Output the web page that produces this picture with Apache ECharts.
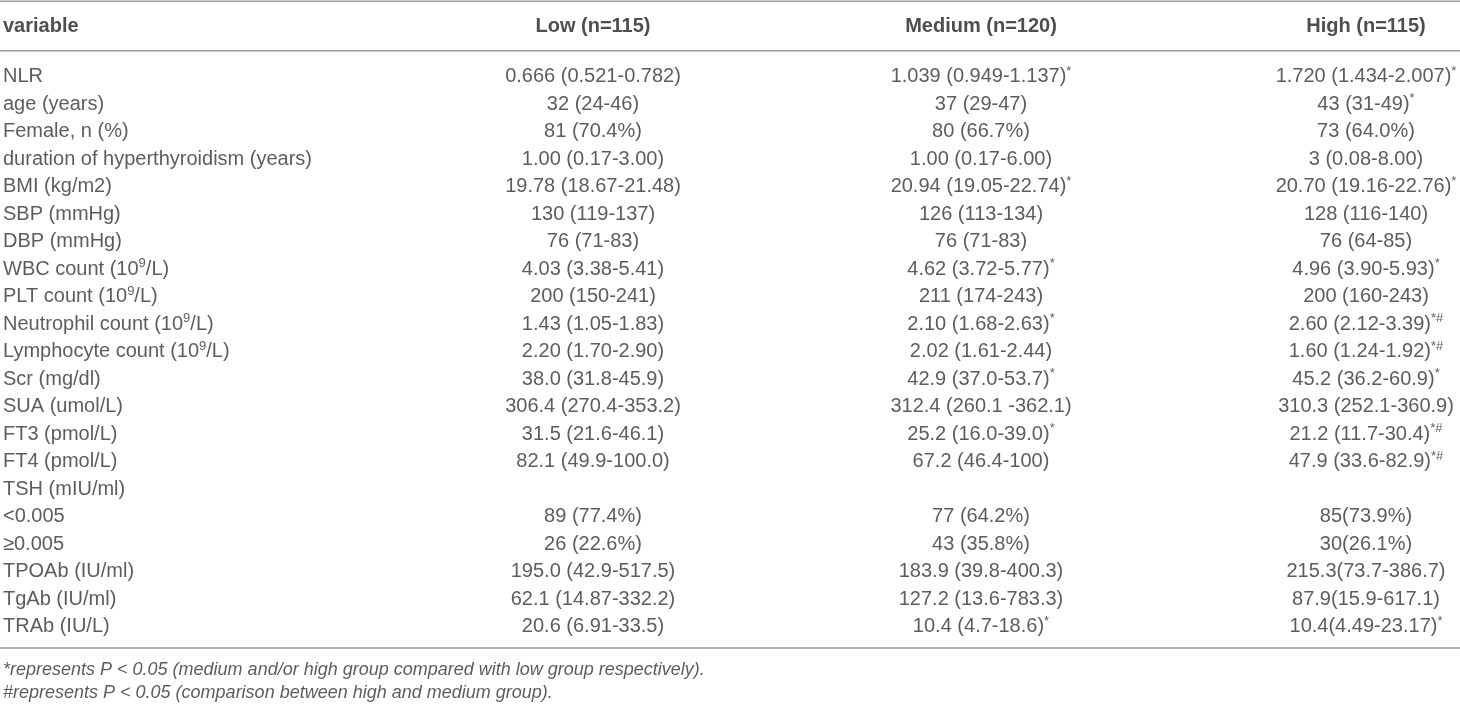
<!DOCTYPE html>
<html>
<head>
<meta charset="utf-8">
<script src="https://cdn.jsdelivr.net/npm/echarts@6/dist/echarts.min.js"></script>
<style>
html,body{margin:0;padding:0;background:#fff;}
#chart{width:1460px;height:706px;}
</style>
</head>
<body>
<div id="chart"></div>
<script>
// ---- data ----
var headers = ['variable', 'Low (n=115)', 'Medium (n=120)', 'High (n=115)'];
var variables = ['NLR', 'age (years)', 'Female, n (%)', 'duration of hyperthyroidism (years)', 'BMI (kg/m2)',
  'SBP (mmHg)', 'DBP (mmHg)', 'WBC count (10^9/L)', 'PLT count (10^9/L)', 'Neutrophil count (10^9/L)',
  'Lymphocyte count (10^9/L)', 'Scr (mg/dl)', 'SUA (umol/L)', 'FT3 (pmol/L)', 'FT4 (pmol/L)', 'TSH (mIU/ml)',
  '<0.005', '\u22650.005', 'TPOAb (IU/ml)', 'TgAb (IU/ml)', 'TRAb (IU/L)'];
var low = ['0.666 (0.521-0.782)', '32 (24-46)', '81 (70.4%)', '1.00 (0.17-3.00)', '19.78 (18.67-21.48)',
  '130 (119-137)', '76 (71-83)', '4.03 (3.38-5.41)', '200 (150-241)', '1.43 (1.05-1.83)',
  '2.20 (1.70-2.90)', '38.0 (31.8-45.9)', '306.4 (270.4-353.2)', '31.5 (21.6-46.1)', '82.1 (49.9-100.0)', '',
  '89 (77.4%)', '26 (22.6%)', '195.0 (42.9-517.5)', '62.1 (14.87-332.2)', '20.6 (6.91-33.5)'];
var medium = ['1.039 (0.949-1.137)*', '37 (29-47)', '80 (66.7%)', '1.00 (0.17-6.00)', '20.94 (19.05-22.74)*',
  '126 (113-134)', '76 (71-83)', '4.62 (3.72-5.77)*', '211 (174-243)', '2.10 (1.68-2.63)*',
  '2.02 (1.61-2.44)', '42.9 (37.0-53.7)*', '312.4 (260.1 -362.1)', '25.2 (16.0-39.0)*', '67.2 (46.4-100)', '',
  '77 (64.2%)', '43 (35.8%)', '183.9 (39.8-400.3)', '127.2 (13.6-783.3)', '10.4 (4.7-18.6)*'];
var high = ['1.720 (1.434-2.007)*', '43 (31-49)*', '73 (64.0%)', '3 (0.08-8.00)', '20.70 (19.16-22.76)*',
  '128 (116-140)', '76 (64-85)', '4.96 (3.90-5.93)*', '200 (160-243)', '2.60 (2.12-3.39)*#',
  '1.60 (1.24-1.92)*#', '45.2 (36.2-60.9)*', '310.3 (252.1-360.9)', '21.2 (11.7-30.4)*#', '47.9 (33.6-82.9)*#', '',
  '85(73.9%)', '30(26.1%)', '215.3(73.7-386.7)', '87.9(15.9-617.1)', '10.4(4.49-23.17)*'];
var footnotes = ['*represents P < 0.05 (medium and/or high group compared with low group respectively).',
  '#represents P < 0.05 (comparison between high and medium group).'];

// ---- layout ----
var W = 1460, H = 706;
var FONT = '"Liberation Sans", Arial, Helvetica, sans-serif';
var SIZE = 20;
var COLOR = '#333';
var HEAD_COLOR = '#222';
var colX = [3, 593, 981, 1366];
var firstRowY = 76.7, rowH = 27.5;
var headerY = 26;
var fnY0 = 670, fnH = 23;
var lineYs = [1.2, 50.7, 648];
var lineColor = '#9b9b9b';

function toRich(s) {
  if (!s) return '';
  s = s.replace(/\^9/g, '{s|9}');
  var m = s.match(/^(.*?)(\*#?|#)$/);
  if (m) return '{n|' + m[1] + '}{s|' + m[2] + '}';
  if (s.indexOf('{s|') >= 0) {
    return s.split(/(\{s\|[^}]*\})/).map(function (p) {
      if (!p) return '';
      return p.indexOf('{s|') === 0 ? p : '{n|' + p + '}';
    }).join('');
  }
  return '{n|' + s + '}';
}
var rich = {
  n: { fontFamily: FONT, fontSize: SIZE, color: COLOR, lineHeight: 24 },
  s: { fontFamily: FONT, fontSize: 13, color: COLOR, lineHeight: 14, verticalAlign: 'top' }
};

var bodyTop = firstRowY - rowH / 2;
var bodyH = rowH * variables.length;

var grids = [
  { left: 0, right: 0, top: bodyTop, height: bodyH },
  { left: 0, right: 0, top: 0, height: headerY * 2 },
  { left: 0, right: 0, top: fnY0 - fnH / 2, height: fnH * footnotes.length }
];
var xAxes = [0, 1, 2].map(function (g) {
  return { type: 'value', gridIndex: g, min: 0, max: W, show: false };
});
var yAxes = [
  { type: 'category', gridIndex: 0, data: variables, inverse: true, show: false },
  { type: 'category', gridIndex: 1, data: ['header'], inverse: true, show: false },
  { type: 'category', gridIndex: 2, data: footnotes, inverse: true, show: false }
];

function cellSeries(values, ci, isLeft) {
  return {
    type: 'scatter', xAxisIndex: 0, yAxisIndex: 0, symbolSize: 0, silent: true,
    data: values.map(function (v, i) { return { value: [colX[ci], i], txt: v }; }),
    label: {
      show: true,
      position: isLeft ? 'right' : 'inside',
      distance: 0,
      align: isLeft ? 'left' : 'center',
      verticalAlign: 'middle',
      formatter: function (p) { return toRich(p.data.txt); },
      rich: rich
    }
  };
}

var series = [
  cellSeries(variables, 0, true),
  cellSeries(low, 1, false),
  cellSeries(medium, 2, false),
  cellSeries(high, 3, false),
  {
    type: 'scatter', xAxisIndex: 1, yAxisIndex: 1, symbolSize: 0, silent: true,
    data: headers.map(function (h, i) { return { value: [colX[i], 0], txt: h }; }),
    label: {
      show: true, distance: 0, verticalAlign: 'middle', position: 'inside',
      formatter: function (p) { return p.data.txt; },
      fontFamily: FONT, fontSize: SIZE, fontWeight: 'bold', color: HEAD_COLOR
    }
  },
  {
    type: 'scatter', xAxisIndex: 2, yAxisIndex: 2, symbolSize: 0, silent: true,
    data: footnotes.map(function (f, i) { return { value: [colX[0], i], txt: f }; }),
    label: {
      show: true, position: 'right', distance: 0, align: 'left', verticalAlign: 'middle',
      formatter: function (p) { return p.data.txt; },
      fontFamily: FONT, fontSize: 18, fontStyle: 'italic', color: COLOR
    }
  }
];
// header: first cell left aligned
series[4].data[0].label = { position: 'right', align: 'left' };

var graphic = lineYs.map(function (y) {
  return { type: 'line', shape: { x1: 0, y1: y, x2: W, y2: y }, style: { stroke: lineColor, lineWidth: 1.6 }, silent: true };
});

var chart = echarts.init(document.getElementById('chart'), null, { renderer: 'canvas' });
chart.setOption({
  animation: false,
  backgroundColor: '#fff',
  grid: grids,
  xAxis: xAxes,
  yAxis: yAxes,
  series: series,
  graphic: graphic
});
</script>
</body>
</html>
